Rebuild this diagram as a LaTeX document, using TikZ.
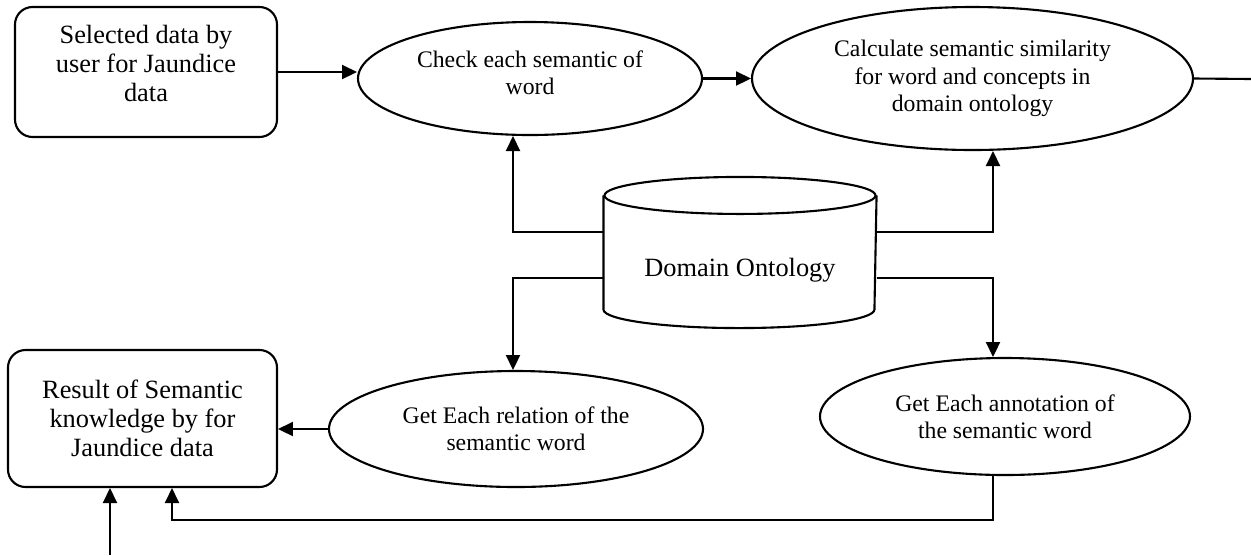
\documentclass[tikz,border=0pt]{standalone}
\usepackage{fontspec}
\setmainfont{Liberation Serif}
\usepackage{tikz}
\usetikzlibrary{positioning, shapes, arrows, arrows.meta}

\begin{document}
\begin{tikzpicture}[line width=1.2pt, >={Triangle[length=8.5pt,width=8pt]},
    databox/.style={draw, rectangle, rounded corners=0.35cm, align=center,
      font=\fontsize{15}{16.5}\selectfont},
    task/.style={draw, ellipse, inner sep=0pt, align=center,
      font=\fontsize{13.5}{15.5}\selectfont}]
  \useasboundingbox (0,0) rectangle (25.02,-11.1);

  \node (select) [databox, minimum width=5.24cm, minimum height=2.6cm] at (2.92,-1.44) {Selected data by\\user for Jaundice\\data\\[-0.25cm]~};
  \node (check) [task, minimum width=6.88cm, minimum height=2.26cm] at (10.6,-1.57) {Check each semantic of\\word\\[-0.3cm]~};
  \node (calc) [task, minimum width=8.82cm, minimum height=2.86cm] at (19.45,-1.57) {Calculate semantic similarity\\for word and concepts in\\domain ontology};
  \node (onto) [minimum width=5.42cm, minimum height=2.98cm, inner sep=0pt,
    label={[name=ontolabel, yshift=-0.36cm, font=\fontsize{15}{16.5}\selectfont]center:Domain Ontology}] at (14.8,-5.05) {};
  \node (relation) [task, minimum width=7.48cm, minimum height=2.32cm] at (10.32,-8.58) {Get Each relation of the\\semantic word};
  \node (annot) [task, minimum width=7.4cm, minimum height=2.34cm] at (20.1,-8.33) {Get Each annotation of\\the semantic word};
  \node (result) [databox, minimum width=5.38cm, minimum height=2.74cm] at (2.85,-8.37) {Result of Semantic\\knowledge by for\\Jaundice data};
  \coordinate (exit) at (25.02,-1.58);
  \coordinate (input) at (2.2,-11.1);

  % database drum
  \draw ([yshift=-0.37cm]onto.north west) -- ([yshift=0.37cm]onto.south west)
    arc[start angle=180, end angle=360, x radius=2.71cm, y radius=0.37cm]
    -- ([yshift=-0.37cm]onto.north east);
  \draw ([yshift=-0.37cm]onto.north) ellipse[x radius=2.71cm, y radius=0.37cm];

  \draw [->] (select) -- (select -| check.west);
  \draw [->] (check) -- (calc);
  \draw (calc.east) -- (exit);
  \draw [->] ([yshift=0.41cm]onto.west) -| ([xshift=-0.34cm]check.south);
  \draw [->] ([yshift=-0.51cm]onto.west) -| ([xshift=-0.06cm]relation.north);
  \draw [->] ([yshift=0.41cm]onto.east) -| ([xshift=0.41cm]calc.south);
  \draw [->] ([yshift=-0.51cm]onto.east) -| ([xshift=-0.24cm]annot.north);
  \draw [->] (relation) -- (relation -| result.east);
  \draw [->] ([xshift=-0.24cm]annot.south) -- ++(0,-0.88) -| ([xshift=0.59cm]result.south);
  \draw [->] (input) -- (input |- result.south);
\end{tikzpicture}
\end{document}
